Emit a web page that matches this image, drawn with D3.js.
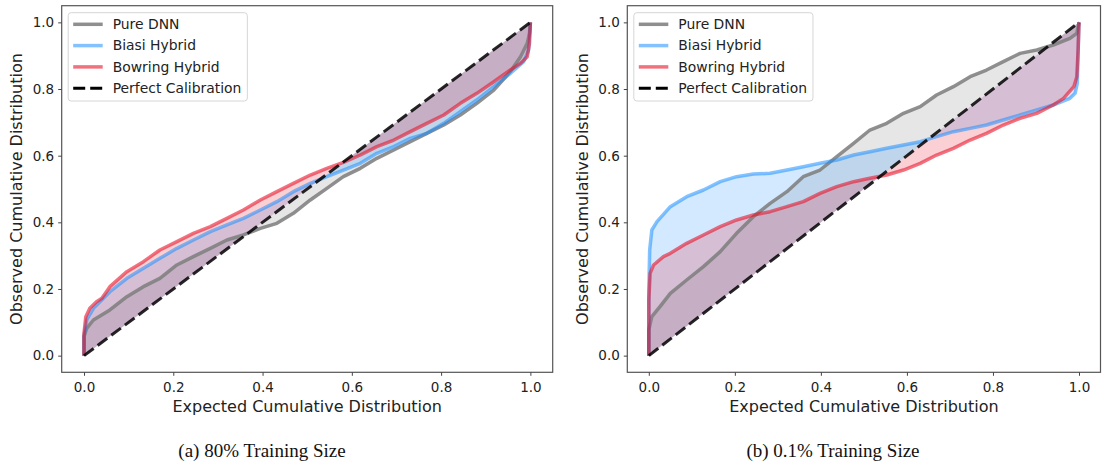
<!DOCTYPE html>
<html>
<head>
<meta charset="utf-8">
<script src="https://cdn.jsdelivr.net/npm/d3@7"></script>
<style>
  body { margin: 0; background: #fff; }
  svg { display: block; }
  .tick text { font-family: "DejaVu Sans", sans-serif; fill: #222; }
</style>
</head>
<body>
<svg width="1111" height="466"></svg>
<script>
var svg = d3.select("svg");

// series names / legend
var seriesNames = ["Pure DNN", "Biasi Hybrid", "Bowring Hybrid", "Perfect Calibration"];
var tickValues = [0, 0.2, 0.4, 0.6, 0.8, 1.0];
var captions = ["(a) 80% Training Size", "(b) 0.1% Training Size"];
var xLabel = "Expected Cumulative Distribution";
var yLabel = "Observed Cumulative Distribution";
var diag = [[0, 0], [1, 1]];

// (a) 80% training size : [expected, observed]
var dnn80 = [[0,0],[0,0.057],[0.006,0.082],[0.021,0.107],[0.058,0.137],[0.096,0.177],[0.133,0.207],
  [0.17,0.232],[0.208,0.272],[0.245,0.297],[0.283,0.322],[0.32,0.347],[0.357,0.362],[0.395,0.382],
  [0.432,0.397],[0.469,0.427],[0.507,0.467],[0.544,0.502],[0.581,0.537],[0.619,0.562],[0.656,0.592],
  [0.694,0.617],[0.731,0.642],[0.768,0.667],[0.806,0.692],[0.843,0.722],[0.88,0.757],[0.918,0.797],
  [0.955,0.852],[0.978,0.897],[0.993,0.937],[0.998,0.967],[1,1]];
var biasi80 = [[0,0],[0,0.06],[0.006,0.107],[0.021,0.142],[0.058,0.192],[0.096,0.232],[0.133,0.262],
  [0.17,0.292],[0.208,0.322],[0.245,0.347],[0.283,0.372],[0.32,0.392],[0.357,0.412],[0.395,0.437],
  [0.432,0.462],[0.469,0.492],[0.507,0.517],[0.544,0.537],[0.581,0.557],[0.619,0.577],[0.656,0.607],
  [0.694,0.627],[0.731,0.652],[0.768,0.667],[0.806,0.697],[0.843,0.732],[0.88,0.767],[0.918,0.807],
  [0.955,0.847],[0.985,0.882],[0.996,0.917],[1,1]];
var bowring80 = [[0,0],[0,0.067],[0.004,0.117],[0.013,0.142],[0.028,0.162],[0.04,0.172],[0.058,0.207],
  [0.096,0.252],[0.133,0.282],[0.17,0.317],[0.208,0.342],[0.245,0.367],[0.283,0.387],[0.32,0.412],
  [0.357,0.437],[0.395,0.467],[0.432,0.492],[0.469,0.517],[0.507,0.542],[0.544,0.562],[0.581,0.58],
  [0.619,0.602],[0.656,0.627],[0.694,0.647],[0.731,0.672],[0.768,0.697],[0.806,0.722],[0.843,0.757],
  [0.88,0.787],[0.918,0.822],[0.955,0.857],[0.978,0.877],[0.993,0.897],[0.998,0.937],[1,1]];

// (b) 0.1% training size
var dnn01 = [[0,0],[0,0.077],[0.007,0.117],[0.026,0.147],[0.05,0.187],[0.088,0.227],[0.127,0.267],
  [0.166,0.312],[0.204,0.367],[0.243,0.417],[0.282,0.457],[0.321,0.492],[0.359,0.537],[0.398,0.557],
  [0.437,0.597],[0.476,0.637],[0.514,0.677],[0.553,0.697],[0.592,0.727],[0.631,0.747],[0.669,0.782],
  [0.708,0.807],[0.747,0.837],[0.785,0.857],[0.824,0.882],[0.863,0.907],[0.902,0.917],[0.94,0.932],
  [0.979,0.952],[0.995,0.967],[1,1]];
var biasi01 = [[0,0],[0,0.197],[0.002,0.317],[0.007,0.377],[0.019,0.402],[0.05,0.447],[0.088,0.477],
  [0.127,0.497],[0.166,0.522],[0.204,0.537],[0.243,0.545],[0.282,0.547],[0.321,0.557],[0.359,0.567],
  [0.398,0.577],[0.437,0.587],[0.476,0.602],[0.514,0.612],[0.553,0.622],[0.592,0.632],[0.631,0.642],
  [0.669,0.657],[0.708,0.672],[0.747,0.682],[0.785,0.692],[0.824,0.707],[0.863,0.722],[0.902,0.737],
  [0.94,0.752],[0.979,0.772],[0.991,0.787],[0.996,0.817],[1,1]];
var bowring01 = [[0,0],[0,0.167],[0.003,0.247],[0.011,0.272],[0.034,0.297],[0.05,0.307],[0.088,0.337],
  [0.127,0.362],[0.166,0.387],[0.204,0.407],[0.243,0.422],[0.282,0.432],[0.321,0.447],[0.359,0.462],
  [0.398,0.487],[0.437,0.507],[0.476,0.522],[0.514,0.532],[0.553,0.542],[0.592,0.557],[0.631,0.577],
  [0.669,0.602],[0.708,0.622],[0.747,0.647],[0.785,0.667],[0.824,0.692],[0.863,0.712],[0.902,0.727],
  [0.94,0.752],[0.964,0.772],[0.988,0.807],[0.995,0.837],[0.998,0.917],[1,1]];

var colors = ["#808080", "#1e90ff", "#e8142a"];
var lineAlpha = [0.88, 0.55, 0.6];

var panels = [
  { left: 61.7, right: 552.7, series: [dnn80, biasi80, bowring80], caption: captions[0], capX: 262, ylabX: 22 },
  { left: 627.3, right: 1100.5, series: [dnn01, biasi01, bowring01], caption: captions[1], capX: 833, ylabX: 588 }
];
var yTop = 5.7, yBottom = 372.3;

panels.forEach(function (p) {
  var x = d3.scaleLinear().domain([-0.05, 1.05]).range([p.left, p.right]);
  var y = d3.scaleLinear().domain([-0.05, 1.05]).range([yBottom, yTop]);
  var g = svg.append("g");

  var area = d3.area()
    .x(function (d) { return x(d[0]); })
    .y0(function (d) { return y(d[0]); })
    .y1(function (d) { return y(d[1]); });
  var line = d3.line()
    .x(function (d) { return x(d[0]); })
    .y(function (d) { return y(d[1]); });

  p.series.forEach(function (s, i) {
    g.append("path").attr("d", area(s))
      .attr("fill", colors[i]).attr("fill-opacity", 0.2);
  });
  p.series.forEach(function (s, i) {
    g.append("path").attr("d", line(s))
      .attr("fill", "none").attr("stroke", colors[i])
      .attr("stroke-opacity", lineAlpha[i]).attr("stroke-width", 3.5)
      .attr("stroke-linejoin", "round");
  });
  g.append("path").attr("d", line(diag))
    .attr("fill", "none").attr("stroke", "#000").attr("stroke-opacity", 0.85)
    .attr("stroke-width", 3).attr("stroke-dasharray", "12,5");

  // frame
  g.append("rect").attr("x", p.left).attr("y", yTop)
    .attr("width", p.right - p.left).attr("height", yBottom - yTop)
    .attr("fill", "none").attr("stroke", "#555").attr("stroke-width", 1.2);

  var xa = g.append("g").attr("transform", "translate(0," + yBottom + ")")
    .call(d3.axisBottom(x).tickValues(tickValues).tickFormat(d3.format(".1f"))
      .tickSize(3.5).tickPadding(6.3));
  var ya = g.append("g").attr("transform", "translate(" + p.left + ",0)")
    .call(d3.axisLeft(y).tickValues(tickValues).tickFormat(d3.format(".1f"))
      .tickSize(3.5).tickPadding(4));
  [xa, ya].forEach(function (a) {
    a.select(".domain").remove();
    a.selectAll("line").attr("stroke", "#444");
    a.selectAll("text").style("font-size", "13.5px");
  });

  g.append("text").attr("x", (p.left + p.right) / 2).attr("y", 412)
    .attr("text-anchor", "middle").style("font-family", "DejaVu Sans, sans-serif")
    .style("font-size", "16px").attr("fill", "#222").text(xLabel);
  g.append("text").attr("transform", "translate(" + p.ylabX + "," + ((yTop + yBottom) / 2) + ") rotate(-90)")
    .attr("text-anchor", "middle").style("font-family", "DejaVu Sans, sans-serif")
    .style("font-size", "16px").attr("fill", "#222").text(yLabel);

  g.append("text").attr("x", p.capX).attr("y", 457)
    .attr("text-anchor", "middle").style("font-family", "Liberation Serif, serif")
    .style("font-size", "19px").attr("fill", "#111").text(p.caption);

  // legend
  var lx = p.left + 6.5, ly = 12.7;
  var leg = g.append("g");
  var box = leg.append("rect").attr("x", lx).attr("y", ly).attr("rx", 3)
    .attr("height", 88.3).attr("fill", "#fff").attr("fill-opacity", 0.8)
    .attr("stroke", "#d6d6d6").attr("stroke-width", 1);
  var maxW = 0;
  seriesNames.forEach(function (name, i) {
    var yy = 24.3 + i * 21.3;
    var ln = leg.append("line").attr("x1", lx + 5).attr("x2", lx + 34.5)
      .attr("y1", yy).attr("y2", yy).attr("stroke-width", 3.5);
    if (i < 3) {
      ln.attr("stroke", colors[i]).attr("stroke-opacity", lineAlpha[i]);
    } else {
      ln.attr("stroke", "#000").attr("stroke-width", 3).attr("stroke-dasharray", "12,5");
    }
    var t = leg.append("text").attr("x", lx + 44.5).attr("y", yy).attr("dy", "0.35em")
      .style("font-family", "DejaVu Sans, sans-serif").style("font-size", "13.9px")
      .attr("fill", "#222").text(name);
    maxW = Math.max(maxW, t.node().getComputedTextLength());
  });
  box.attr("width", 44.5 + maxW + 6);
});
</script>
</body>
</html>
